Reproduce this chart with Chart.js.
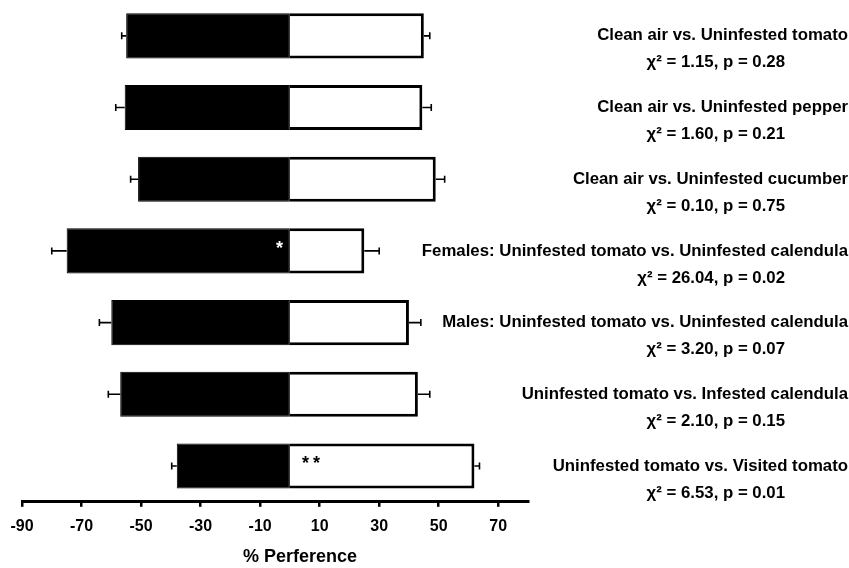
<!DOCTYPE html>
<html>
<head>
<meta charset="utf-8">
<script src="https://cdn.jsdelivr.net/npm/chart.js@4.4.1/dist/chart.umd.min.js"></script>
<style>
  body { margin: 0; background: #fff; }
  #wrap { width: 849px; height: 568px; position: relative; }
</style>
</head>
<body>
<div id="wrap"><canvas id="chart"></canvas></div>
<script>
// comparisons (top to bottom)
const categories = [
  'Clean air vs. Uninfested tomato',
  'Clean air vs. Uninfested pepper',
  'Clean air vs. Uninfested cucumber',
  'Females: Uninfested tomato vs. Uninfested calendula',
  'Males: Uninfested tomato vs. Uninfested calendula',
  'Uninfested tomato vs. Infested calendula',
  'Uninfested tomato vs. Visited tomato'
];
const statLines = [
  'χ² = 1.15, p = 0.28',
  'χ² = 1.60, p = 0.21',
  'χ² = 0.10, p = 0.75',
  'χ² = 26.04, p = 0.02',
  'χ² = 3.20, p = 0.07',
  'χ² = 2.10, p = 0.15',
  'χ² = 6.53, p = 0.01'
];
// % preference for first (black) and second (white) option
const leftPct = [-55, -55.5, -51, -75, -60, -57, -38];
const rightPct = [45, 44.5, 49, 25, 40, 43, 62];
const leftErr = [1.5, 3, 2.5, 5, 4, 4, 1.7];
const rightErr = [2, 3, 3, 5, 4, 4, 1.7];
const sigMarks = ['', '', '', '*', '', '', '**'];
const xTicks = [-90, -70, -50, -30, -10, 10, 30, 50, 70];
const xTitle = '% Perference';

const FONT = "'Liberation Sans', Arial, sans-serif";

// error bars with small caps at the bar ends
const errorBars = {
  id: 'errorBars',
  afterDatasetsDraw(chart) {
    const { ctx, scales: { x, y } } = chart;
    ctx.save();
    ctx.strokeStyle = '#000';
    ctx.lineWidth = 1.6;
    const draw = (v, e, i) => {
      const yy = y.getPixelForValue(i);
      const x1 = x.getPixelForValue(v);
      const x2 = x.getPixelForValue(v + e);
      ctx.beginPath();
      ctx.moveTo(x1, yy);
      ctx.lineTo(x2, yy);
      ctx.moveTo(x2, yy - 3.5);
      ctx.lineTo(x2, yy + 3.5);
      ctx.stroke();
    };
    leftPct.forEach((v, i) => draw(v, -leftErr[i], i));
    rightPct.forEach((v, i) => draw(v, rightErr[i], i));
    ctx.restore();
  }
};

// significance asterisks, next to zero on the preferred side
const sigLabels = {
  id: 'sigLabels',
  afterDatasetsDraw(chart) {
    const { ctx, scales: { x, y } } = chart;
    ctx.save();
    ctx.font = 'bold 18px ' + FONT;
    ctx.textBaseline = 'middle';
    ctx.letterSpacing = '4px';
    const x0 = x.getPixelForValue(0);
    sigMarks.forEach((m, i) => {
      if (!m) return;
      const yy = y.getPixelForValue(i) - 2;
      if (Math.abs(leftPct[i]) > rightPct[i]) {
        ctx.fillStyle = '#fff';
        ctx.textAlign = 'right';
        ctx.fillText(m, x0 - 3, yy);
      } else {
        ctx.fillStyle = '#000';
        ctx.textAlign = 'left';
        ctx.fillText(m, x0 + 12, yy);
      }
    });
    ctx.restore();
  }
};

// comparison names + chi-square lines on the right, axis title below
const rowLabels = {
  id: 'rowLabels',
  afterDraw(chart) {
    const { ctx, scales: { y } } = chart;
    ctx.save();
    ctx.font = 'bold 16.8px ' + FONT;
    ctx.fillStyle = '#000';
    ctx.textAlign = 'right';
    ctx.textBaseline = 'middle';
    categories.forEach((c, i) => {
      const yy = y.getPixelForValue(i);
      ctx.fillText(c, 848, yy);
      ctx.fillText(statLines[i], 785, yy + 27);
    });
    // title sits a bit right of the axis centre in the original
    ctx.font = 'bold 18px ' + FONT;
    ctx.textAlign = 'center';
    ctx.fillText(xTitle, 300, 557);
    ctx.restore();
  }
};

new Chart(document.getElementById('chart'), {
  type: 'bar',
  data: {
    labels: categories,
    datasets: [{
      data: leftPct,
      backgroundColor: '#000',
      borderColor: '#000',
      borderWidth: 1,
      borderSkipped: false
    }, {
      data: rightPct,
      backgroundColor: '#fff',
      borderColor: '#000',
      borderWidth: 3,
      inflateAmount: 0
    }]
  },
  options: {
    indexAxis: 'y',
    responsive: true,
    maintainAspectRatio: false,
    animation: false,
    categoryPercentage: 1,
    barPercentage: 0.63,
    layout: { padding: { left: 22, right: 321, top: 0, bottom: 22 } },
    plugins: {
      legend: { display: false },
      tooltip: { enabled: false }
    },
    scales: {
      y: {
        type: 'category',
        stacked: true,
        display: false
      },
      x: {
        type: 'linear',
        stacked: true,
        min: -90,
        max: 80,
        afterBuildTicks: (scale) => {
          scale.ticks = xTicks.map((v) => ({ value: v }));
        },
        ticks: {
          color: '#000',
          padding: 10,
          font: { family: FONT, size: 16, weight: 'bold' }
        },
        grid: {
          drawOnChartArea: false,
          drawTicks: true,
          tickLength: 5,
          color: '#000',
          lineWidth: 2.5
        },
        border: { display: true, color: '#000', width: 3 },
        title: { display: false }
      }
    }
  },
  plugins: [errorBars, sigLabels, rowLabels]
});
</script>
</body>
</html>
